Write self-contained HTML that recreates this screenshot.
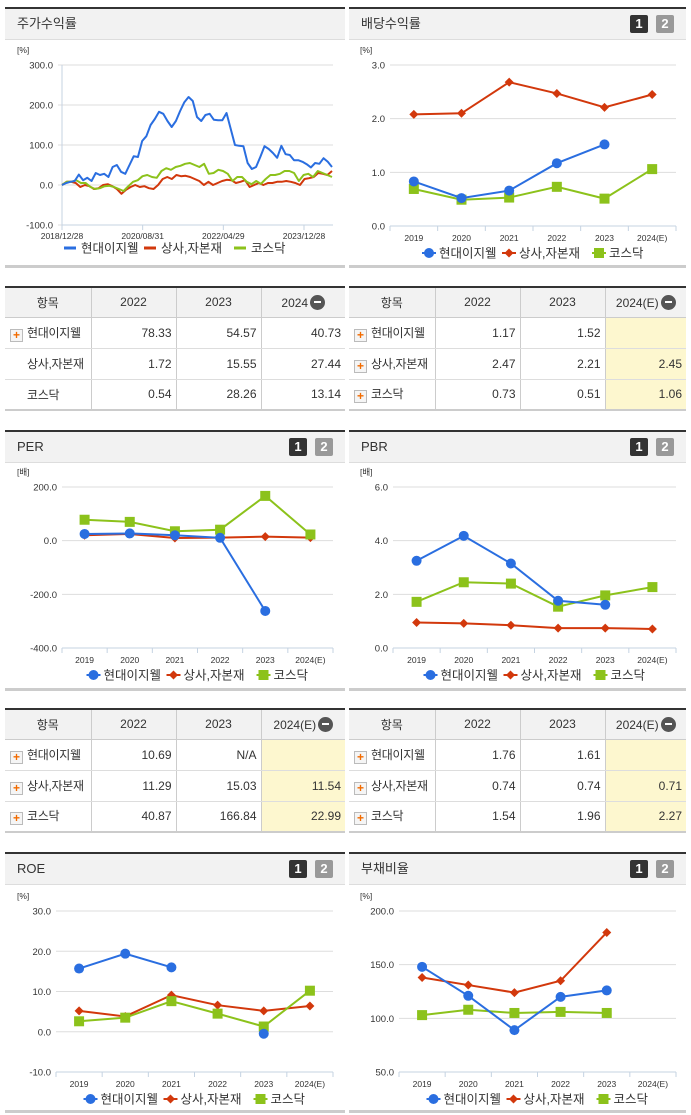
<!DOCTYPE html>
<html><head><meta charset="utf-8">
<style>
*{box-sizing:border-box;margin:0;padding:0}
body{width:691px;height:1115px;background:#fff;position:relative;overflow:hidden;font-family:"Liberation Sans","Noto Sans CJK KR","NanumGothic",sans-serif;color:#333}
.panel{position:absolute;border-top:2px solid #333;border-bottom:3px solid #ccc}
.hdr{position:absolute;left:0;right:0;top:0;height:31px;background:#f2f2f2;border-bottom:1px solid #ddd;font-size:13px;line-height:30px;padding-left:12px;color:#333}
.badge{position:absolute;top:6px;width:18px;height:18px;color:#fff;font-size:13px;font-weight:bold;line-height:18px;text-align:center;border-radius:2px}
.b1{right:38px;background:#333}.b2{right:12px;background:#999}
table{position:absolute;border-collapse:collapse;border-top:2px solid #333;border-bottom:2px solid #ccc;font-size:12px;table-layout:fixed}
th{background:#f2f2f2;font-weight:normal;height:30px;border-right:1px solid #ccc;border-bottom:1px solid #ccc;text-align:center;color:#333;white-space:nowrap}
td{height:31px;border-right:1px solid #ccc;border-bottom:1px solid #ddd;text-align:right;padding-right:4px;color:#333;white-space:nowrap;overflow:hidden}
th:last-child,td:last-child{border-right:none}
td.lbl{text-align:left;padding-left:5px;letter-spacing:-0.3px}
td.ind{text-align:left;padding-left:22px;letter-spacing:-0.3px}
td.y{background:#fdf7cf}
.plus{display:inline-block;width:13px;height:13px;border:1px solid #bbb;background:#f5f5f5;color:#f26b00;font-size:12px;font-weight:bold;line-height:11px;text-align:center;vertical-align:-2px;margin-right:4px;letter-spacing:0}
.minus{display:inline-block;width:15px;height:15px;border-radius:50%;background:#555;vertical-align:-3px;position:relative;margin-left:2px}
.minus:after{content:"";position:absolute;left:4px;top:6.5px;width:7px;height:2px;background:#fff}
svg{position:absolute;left:0;top:0}
</style></head><body>

<div class="panel" style="left:5px;top:7px;width:340px;height:261px"><div class="hdr">주가수익률</div></div>
<div class="panel" style="left:349px;top:7px;width:337px;height:261px"><div class="hdr">배당수익률</div><div class="badge b1">1</div><div class="badge b2">2</div></div>
<div class="panel" style="left:5px;top:430px;width:340px;height:261px"><div class="hdr">PER</div><div class="badge b1">1</div><div class="badge b2">2</div></div>
<div class="panel" style="left:349px;top:430px;width:337px;height:261px"><div class="hdr">PBR</div><div class="badge b1">1</div><div class="badge b2">2</div></div>
<div class="panel" style="left:5px;top:852px;width:340px;height:261px"><div class="hdr">ROE</div><div class="badge b1">1</div><div class="badge b2">2</div></div>
<div class="panel" style="left:349px;top:852px;width:337px;height:261px"><div class="hdr">부채비율</div><div class="badge b1">1</div><div class="badge b2">2</div></div>

<table style="left:5px;top:286px;width:340px">
<colgroup><col style="width:86px"><col style="width:85px"><col style="width:85px"><col style="width:84px"></colgroup>
<tr><th>항목</th><th>2022</th><th>2023</th><th>2024<span class="minus"></span></th></tr>
<tr><td class="lbl"><span class="plus">+</span>현대이지웰</td><td>78.33</td><td>54.57</td><td>40.73</td></tr>
<tr><td class="ind">상사,자본재</td><td>1.72</td><td>15.55</td><td>27.44</td></tr>
<tr><td class="ind">코스닥</td><td>0.54</td><td>28.26</td><td>13.14</td></tr>
</table>
<table style="left:349px;top:286px;width:337px">
<colgroup><col style="width:86px"><col style="width:85px"><col style="width:85px"><col style="width:81px"></colgroup>
<tr><th>항목</th><th>2022</th><th>2023</th><th>2024(E)<span class="minus"></span></th></tr>
<tr><td class="lbl"><span class="plus">+</span>현대이지웰</td><td>1.17</td><td>1.52</td><td class="y"></td></tr>
<tr><td class="lbl"><span class="plus">+</span>상사,자본재</td><td>2.47</td><td>2.21</td><td class="y">2.45</td></tr>
<tr><td class="lbl"><span class="plus">+</span>코스닥</td><td>0.73</td><td>0.51</td><td class="y">1.06</td></tr>
</table>
<table style="left:5px;top:708px;width:340px">
<colgroup><col style="width:86px"><col style="width:85px"><col style="width:85px"><col style="width:84px"></colgroup>
<tr><th>항목</th><th>2022</th><th>2023</th><th>2024(E)<span class="minus"></span></th></tr>
<tr><td class="lbl"><span class="plus">+</span>현대이지웰</td><td>10.69</td><td>N/A</td><td class="y"></td></tr>
<tr><td class="lbl"><span class="plus">+</span>상사,자본재</td><td>11.29</td><td>15.03</td><td class="y">11.54</td></tr>
<tr><td class="lbl"><span class="plus">+</span>코스닥</td><td>40.87</td><td>166.84</td><td class="y">22.99</td></tr>
</table>
<table style="left:349px;top:708px;width:337px">
<colgroup><col style="width:86px"><col style="width:85px"><col style="width:85px"><col style="width:81px"></colgroup>
<tr><th>항목</th><th>2022</th><th>2023</th><th>2024(E)<span class="minus"></span></th></tr>
<tr><td class="lbl"><span class="plus">+</span>현대이지웰</td><td>1.76</td><td>1.61</td><td class="y"></td></tr>
<tr><td class="lbl"><span class="plus">+</span>상사,자본재</td><td>0.74</td><td>0.74</td><td class="y">0.71</td></tr>
<tr><td class="lbl"><span class="plus">+</span>코스닥</td><td>1.54</td><td>1.96</td><td class="y">2.27</td></tr>
</table>

<svg id="charts" width="691" height="1115"></svg>

<script>
// Stock return series (equally spaced samples, 2018/12/28 .. latest)
const stockBlue=[0,5,8,10,26,12,18,10,30,25,28,20,45,50,33,28,50,72,70,110,122,150,165,183,178,160,145,160,185,207,220,210,170,160,175,178,163,162,162,180,140,100,98,97,55,40,45,70,97,90,80,68,98,77,75,62,62,58,52,44,55,53,67,58,45];
const stockRed=[0,8,8,5,-5,0,-3,-10,-8,0,2,-3,-10,-22,-12,-5,0,-5,-3,-8,-10,0,15,20,15,25,22,23,20,15,10,0,8,0,5,10,13,12,5,8,12,-5,0,5,0,5,5,8,8,10,8,5,0,15,17,20,30,28,25,35];
const stockGreen=[0,8,8,12,5,5,-5,-10,-8,-3,-2,-5,-10,-15,-3,8,12,22,25,20,18,35,42,38,45,48,53,55,50,45,53,28,30,38,35,28,10,20,20,8,2,10,3,15,25,25,28,35,35,30,10,25,28,20,35,30,25,20];
const stockTicks=["2018/12/28","2020/08/31","2022/04/29","2023/12/28"];
const stockYTicks=[300,200,100,0,-100];

const years=["2019","2020","2021","2022","2023","2024(E)"];
const divBlue=[0.83,0.52,0.66,1.17,1.52,null];
const divRed=[2.08,2.10,2.68,2.47,2.21,2.45];
const divGreen=[0.69,0.49,0.53,0.73,0.51,1.06];
const perBlue=[25,27,20,10.69,-262,null];
const perRed=[20,25,10,11.29,15.03,11.54];
const perGreen=[78,70,35,40.87,166.84,22.99];
const pbrBlue=[3.25,4.18,3.15,1.76,1.61,null];
const pbrRed=[0.95,0.92,0.85,0.74,0.74,0.71];
const pbrGreen=[1.72,2.45,2.40,1.54,1.96,2.27];
const roeBlue=[15.7,19.4,16.0,null,-0.5,null];
const roeRed=[5.2,3.8,9.1,6.6,5.2,6.4];
const roeGreen=[2.6,3.5,7.6,4.5,1.3,10.2];
const debtBlue=[148,121,89,120,126,null];
const debtRed=[138,131,124,135,180,null];
const debtGreen=[103,108,105,106,105,null];
const seriesNames=["현대이지웰","상사,자본재","코스닥"];

const C={blue:"#2a6ee0",red:"#d2380c",green:"#8cc21b"};
const NS="http://www.w3.org/2000/svg";
const svg=document.getElementById("charts");
function mk(tag,attrs,parent,name){
  const e=document.createElementNS(NS,tag);
  for(const k in attrs)e.setAttribute(k,attrs[k]);
  
  
  (parent||svg).appendChild(e);return e;
}
function txt(x,y,s,size,anchor,parent,name){
  const t=mk("text",{x:x,y:y,"font-size":size,"text-anchor":anchor||"start",fill:"#333","font-family":'"Liberation Sans","Noto Sans CJK KR",sans-serif'},parent,name);
  t.textContent=s;return t;
}
function yAxis(g,ticks,yMin,yMax,top,bottom,x0,x1,unit,unitX){
  const sy=v=>bottom-(v-yMin)/(yMax-yMin)*(bottom-top);
  ticks.forEach(v=>{
    mk("line",{x1:x0,x2:x1,y1:sy(v),y2:sy(v),stroke:"#ddd","stroke-width":1},g,"gridline");
    txt(x0-5,sy(v)+3.5,v.toFixed(1),9.5,"end",g,"y-tick-label");
  });
  txt(unitX,top-12,unit,8.5,"start",g,"y-axis-unit");
  return sy;
}
function marker(g,kind,x,y,color){
  if(kind==="circle")mk("circle",{cx:x,cy:y,r:5,fill:color},g,"point");
  else if(kind==="diamond")mk("path",{d:`M${x} ${y-4.5}L${x+4.5} ${y}L${x} ${y+4.5}L${x-4.5} ${y}Z`,fill:color},g,"point");
  else mk("rect",{x:x-5,y:y-5,width:10,height:10,fill:color},g,"point");
}
function legend(g,cx,y,kinds){
  const widths=[72,82,52];const gap=8;
  let total=widths.reduce((a,b)=>a+b)+gap*2;let x=cx-total/2;
  seriesNames.forEach((n,i)=>{
    const c=[C.blue,C.red,C.green][i];
    const lg=mk("g",{},g,"legend-entry");
    if(kinds==="line")mk("line",{x1:x,x2:x+12,y1:y,y2:y,stroke:c,"stroke-width":3},lg,"legend-swatch");
    else{mk("line",{x1:x,x2:x+14,y1:y,y2:y,stroke:c,"stroke-width":2},lg,"legend-swatch");marker(lg,kinds[i],x+7,y,c);}
    txt(x+17,y+4.5,n,12.5,"start",lg,"legend-label");
    x+=widths[i]+gap;
  });
}
function catChart(name,cfg){
  const g=mk("g",{},svg,name);
  const sy=yAxis(g,cfg.ticks,cfg.yMin,cfg.yMax,cfg.top,cfg.bottom,cfg.x0,cfg.x1,cfg.unit,cfg.unitX);
  mk("line",{x1:cfg.x0,x2:cfg.x1,y1:cfg.bottom,y2:cfg.bottom,stroke:"#c5d3e2","stroke-width":1},g,"x-axis");
  const n=years.length,w=(cfg.x1-cfg.x0)/n;
  const sx=i=>cfg.x0+(i+0.5)*w;
  for(let i=0;i<=n;i++)mk("line",{x1:cfg.x0+i*w,x2:cfg.x0+i*w,y1:cfg.bottom,y2:cfg.bottom+5,stroke:"#c5d3e2"},g,"x-tick");
  years.forEach((y,i)=>txt(sx(i),cfg.bottom+15,y,8.5,"middle",g,"x-tick-label"));
  const series=[[cfg.red,C.red,"diamond"],[cfg.green,C.green,"rect"],[cfg.blue,C.blue,"circle"]];
  series.forEach(([vals,col,kind])=>{
    let d="",pen=false;
    vals.forEach((v,i)=>{if(v==null){pen=false;return;}d+=(pen?"L":"M")+sx(i)+" "+sy(v)+" ";pen=true;});
    mk("path",{d:d,fill:"none",stroke:col,"stroke-width":2},g,"series-line");
    vals.forEach((v,i)=>{if(v!=null)marker(g,kind,sx(i),sy(v),col);});
  });
  legend(g,(cfg.x0+cfg.x1)/2,cfg.bottom+27,["circle","diamond","rect"]);
}
// stock chart
(function(){
  const g=mk("g",{},svg,"stock-return-chart");
  const top=65,bottom=225,x0=58,x1=333,px0=62,px1=332;
  const sy=yAxis(g,stockYTicks,-100,300,top,bottom,x0,x1,"[%]",17);
  mk("line",{x1:px0,x2:px0,y1:top,y2:bottom,stroke:"#c5d3e2"},g,"y-axis");
  mk("line",{x1:px0,x2:x1,y1:bottom,y2:bottom,stroke:"#c5d3e2"},g,"x-axis");
  const tickStep=(304-px0)/(stockTicks.length-1);
  stockTicks.forEach((t,i)=>{const x=px0+i*tickStep;
    mk("line",{x1:x,x2:x,y1:bottom,y2:bottom+5,stroke:"#c5d3e2"},g,"x-tick");
    txt(x,bottom+14,t,8.5,"middle",g,"x-tick-label");});
  [[stockRed,C.red],[stockGreen,C.green],[stockBlue,C.blue]].forEach(([vals,col])=>{
    const d=vals.map((v,i)=>(i?"L":"M")+(px0+i/(vals.length-1)*(px1-px0))+" "+sy(v)).join(" ");
    mk("path",{d:d,fill:"none",stroke:col,"stroke-width":2,"stroke-linejoin":"round"},g,"series-line");
  });
  legend(g,175,248,"line");
})();
catChart("dividend-chart",{ticks:[3,2,1,0],yMin:0,yMax:3,top:65,bottom:226,x0:390,x1:676,unit:"[%]",unitX:360,blue:divBlue,red:divRed,green:divGreen});
catChart("per-chart",{ticks:[200,0,-200,-400],yMin:-400,yMax:200,top:487,bottom:648,x0:62,x1:333,unit:"[배]",unitX:17,blue:perBlue,red:perRed,green:perGreen});
catChart("pbr-chart",{ticks:[6,4,2,0],yMin:0,yMax:6,top:487,bottom:648,x0:393,x1:676,unit:"[배]",unitX:360,blue:pbrBlue,red:pbrRed,green:pbrGreen});
catChart("roe-chart",{ticks:[30,20,10,0,-10],yMin:-10,yMax:30,top:911,bottom:1072,x0:56,x1:333,unit:"[%]",unitX:17,blue:roeBlue,red:roeRed,green:roeGreen});
catChart("debt-ratio-chart",{ticks:[200,150,100,50],yMin:50,yMax:200,top:911,bottom:1072,x0:399,x1:676,unit:"[%]",unitX:360,blue:debtBlue,red:debtRed,green:debtGreen});
</script>
</body></html>
